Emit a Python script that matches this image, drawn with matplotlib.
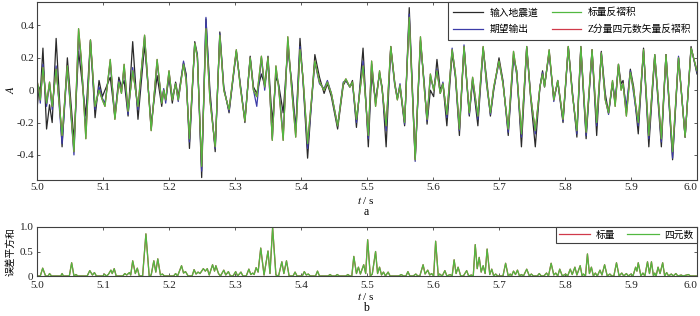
import matplotlib
matplotlib.use("Agg")
import matplotlib.pyplot as plt

plt.rcParams['font.family'] = ['Liberation Serif', 'Noto Sans CJK SC']
plt.rcParams['mathtext.fontset'] = 'stix'
plt.rcParams['axes.unicode_minus'] = False

# extrema of the traces (time in s, amplitude)
t_ext = [5.000, 5.003, 5.005, 5.009, 5.0145, 5.019, 5.023, 5.029, 5.038, 5.046,
         5.056, 5.063, 5.067, 5.074, 5.081, 5.088, 5.094, 5.099, 5.103, 5.111,
         5.118, 5.124, 5.128, 5.132, 5.138, 5.145, 5.153, 5.163, 5.173, 5.182,
         5.189, 5.192, 5.195, 5.200, 5.205, 5.210, 5.214, 5.222, 5.226, 5.231,
         5.239, 5.243, 5.2495, 5.256, 5.262, 5.270, 5.277, 5.283, 5.291, 5.302,
         5.308, 5.315, 5.323, 5.328, 5.333, 5.340, 5.345, 5.350, 5.3565, 5.362,
         5.366, 5.373, 5.380, 5.386, 5.392, 5.3985, 5.403, 5.410, 5.421, 5.428,
         5.435, 5.440, 5.446, 5.4555, 5.464, 5.468, 5.474, 5.478, 5.484, 5.494,
         5.502, 5.507, 5.513, 5.519, 5.523, 5.529, 5.536, 5.542, 5.546, 5.550,
         5.557, 5.564, 5.573, 5.581, 5.587, 5.591, 5.596, 5.601, 5.606, 5.611,
         5.615, 5.621, 5.629, 5.634, 5.640, 5.647, 5.655, 5.660, 5.668, 5.676,
         5.681, 5.687, 5.692, 5.700, 5.706, 5.714, 5.722, 5.727, 5.734, 5.742,
         5.748, 5.755, 5.762, 5.766, 5.769, 5.776, 5.783, 5.789, 5.797, 5.805,
         5.811, 5.818, 5.824, 5.832, 5.841, 5.848, 5.855, 5.861, 5.866, 5.872,
         5.876, 5.881, 5.885, 5.888, 5.893, 5.899, 5.904, 5.911, 5.919, 5.927,
         5.936, 5.946, 5.953, 5.963, 5.972, 5.982, 5.991, 6.000]

# 输入地震道
seis_in = [-.12, .02, -.02, .26, -.24, -.09, -.20, .32, -.35, .20,
           -.31, .24, .10, -.16, .31, -.17, .06, -.04, 0, .08,
           -.16, .08, .02, .06, -.16, .30, -.18, .28, -.21, .09,
           -.10, 0, -.06, .08, -.08, .05, -.04, .17, .10, -.36,
           .30, .22, -.54, .44, 0, -.38, .36, .02, -.14, .24,
           .04, -.20, .21, .02, -.02, .10, .03, .21, -.20, .08,
           .04, -.14, .26, .05, -.24, .32, .06, -.42, .22, .08,
           -.02, .04, -.04, -.24, .03, .06, .02, .06, -.23, .26,
           -.35, .10, -.06, .10, .02, -.35, .27, .05, -.05, .02,
           -.22, .51, -.42, .30, .03, -.21, 0, -.04, .19, 0,
           .04, -.22, .23, .08, -.28, .27, -.16, .06, -.22, .26,
           .08, -.16, 0, .20, .06, -.28, .20, .12, -.35, .26,
           -.05, -.35, .02, .12, .03, .23, -.05, .05, -.20, .27,
           0, -.29, .26, -.30, .25, -.28, .24, -.02, -.14, .04,
           -.08, .16, .04, .06, -.14, .13, .02, -.27, .26, -.35,
           .21, -.35, .22, -.43, .20, -.29, .27, .10]

# 期望输出
desired = [.04, 0, -.08, .16, -.10, .04, -.12, .15, -.33, .14,
           -.40, .34, .18, -.25, .30, -.12, .02, -.05, -.08, .17,
           -.17, .06, -.01, .14, -.15, .14, -.12, .33, -.24, .17,
           -.07, .01, -.08, .11, -.05, .04, -.07, .18, .08, -.32,
           .29, .21, -.50, .45, -.04, -.36, .35, .01, -.13, .24,
           .03, -.18, .20, 0, -.10, .20, 0, .19, -.30, .12,
           .03, -.28, .30, .02, -.26, .27, .07, -.36, .17, .04,
           .01, .06, -.02, -.22, .05, .06, .02, .04, -.20, .18,
           -.30, .16, -.08, .11, 0, -.25, .26, .03, -.05, .04,
           -.21, .47, -.44, .31, .02, -.19, .08, .01, .13, -.02,
           .05, -.17, .26, .09, -.25, .28, -.15, .07, -.18, .26,
           .04, -.15, .01, .17, .05, -.26, .22, .09, -.29, .27,
           -.03, -.27, .02, .11, .02, .24, -.07, .06, -.19, .26,
           -.01, -.27, .27, -.28, .24, -.22, .23, -.05, -.15, .05,
           -.06, .14, .02, .03, -.10, .12, -.02, -.22, .24, -.30,
           .22, -.32, .22, -.42, .21, -.29, .26, .11]

# 标量反褶积
scalar = [.06, 0, -.06, .14, -.08, .05, -.10, .13, -.28, .15,
          -.38, .38, .20, -.30, .31, -.10, 0, -.06, -.10, .19,
          -.18, .05, -.02, .16, -.13, .12, -.10, .34, -.25, .19,
          -.08, 0, -.06, .12, -.06, .04, -.06, .16, .06, -.30,
          .29, .20, -.47, .38, -.06, -.35, .34, 0, -.12, .25,
          .02, -.19, .20, 0, -.04, .21, .02, .20, -.31, .15,
          .02, -.31, .33, 0, -.29, .25, .08, -.33, .18, .05,
          0, .05, -.02, -.22, .04, .07, .02, .05, -.18, .15,
          -.28, .18, -.10, .12, 0, -.22, .27, .04, -.06, .03,
          -.20, .45, -.43, .33, 0, -.18, .10, 0, .12, -.02,
          .04, -.15, .25, .10, -.24, .27, -.14, .08, -.16, .27,
          .05, -.14, .02, .18, .04, -.24, .24, .10, -.27, .27,
          -.04, -.25, .02, .10, .02, .25, -.06, .06, -.18, .27,
          -.02, -.25, .27, -.26, .25, -.20, .23, -.06, -.14, .06,
          -.10, .16, 0, .04, -.16, .11, 0, -.20, .25, -.28,
          .22, -.30, .22, -.38, .20, -.29, .26, .12]

# Z分量四元数矢量反褶积 (coincides with the scalar result, hidden below it)
quat = list(scalar)

# 误差平方和 (time, value)
err_pts = [(5.000, 0), (5.005, 0), (5.0086, .16), (5.013, 0), (5.017, 0), (5.019, .05), (5.022, 0),
           (5.036, 0), (5.038, .05), (5.040, 0), (5.049, 0), (5.0525, .27), (5.056, 0), (5.059, .03),
           (5.062, 0), (5.076, 0), (5.080, .11), (5.084, .02), (5.087, .07), (5.090, 0), (5.100, 0),
           (5.102, .04), (5.105, 0), (5.108, .03), (5.112, .12), (5.114, .05), (5.117, .15), (5.120, 0),
           (5.130, 0), (5.133, .05), (5.136, .02), (5.140, .07), (5.142, .02), (5.145, .31), (5.149, .05),
           (5.152, .16), (5.155, 0), (5.160, 0), (5.165, .86), (5.170, 0), (5.173, .02), (5.177, .31),
           (5.180, .08), (5.183, .35), (5.187, .02), (5.190, .04), (5.193, 0), (5.207, 0), (5.210, .05),
           (5.213, 0), (5.219, .21), (5.222, .06), (5.225, .09), (5.229, 0), (5.235, 0), (5.238, .13),
           (5.241, .04), (5.244, .08), (5.247, .05), (5.252, .15), (5.255, .10), (5.258, .15), (5.261, .02),
           (5.266, .23), (5.269, .10), (5.271, .21), (5.275, .05), (5.278, 0), (5.283, .12), (5.286, .02),
           (5.290, .09), (5.293, 0), (5.297, 0), (5.301, .09), (5.304, 0), (5.309, .08), (5.312, 0),
           (5.317, 0), (5.321, .14), (5.324, .03), (5.327, .06), (5.329, .03), (5.332, .17), (5.335, .08),
           (5.339, .57), (5.344, .02), (5.350, .51), (5.353, .05), (5.357, .99), (5.362, .02), (5.366, 0),
           (5.371, .29), (5.374, .05), (5.378, .31), (5.382, 0), (5.388, 0), (5.391, .08), (5.394, 0),
           (5.402, 0), (5.405, .09), (5.408, .02), (5.411, .04), (5.414, 0), (5.422, 0), (5.425, .10),
           (5.428, 0), (5.441, 0), (5.444, .03), (5.447, 0), (5.452, 0), (5.455, .03), (5.458, 0),
           (5.468, 0), (5.471, .03), (5.474, 0), (5.477, 0), (5.480, .40), (5.484, .05), (5.487, .18),
           (5.490, .04), (5.495, .23), (5.498, .05), (5.501, .74), (5.505, 0), (5.508, .04), (5.513, .50),
           (5.516, .05), (5.519, .18), (5.522, .02), (5.525, .08), (5.528, 0), (5.532, .08), (5.535, 0),
           (5.548, 0), (5.552, .03), (5.555, 0), (5.559, 0), (5.562, .09), (5.565, 0), (5.570, 0),
           (5.574, .04), (5.577, 0), (5.580, 0), (5.585, .23), (5.588, .04), (5.592, .12), (5.595, .02),
           (5.598, .05), (5.601, 0), (5.604, .71), (5.608, 0), (5.610, .04), (5.614, 0), (5.618, .11),
           (5.621, 0), (5.626, .03), (5.629, 0), (5.632, .33), (5.635, .05), (5.638, .18), (5.642, 0),
           (5.646, 0), (5.651, .11), (5.654, 0), (5.658, .02), (5.661, 0), (5.664, .64), (5.667, .15),
           (5.670, .38), (5.673, .08), (5.676, .21), (5.679, .05), (5.682, .55), (5.686, .03), (5.689, .14),
           (5.692, 0), (5.695, .04), (5.698, 0), (5.706, 0), (5.710, .26), (5.714, 0), (5.717, .04),
           (5.719, 0), (5.722, .10), (5.725, .03), (5.728, .12), (5.731, 0), (5.734, .03), (5.737, 0),
           (5.742, .14), (5.746, 0), (5.749, .04), (5.752, 0), (5.758, 0), (5.761, .05), (5.764, 0),
           (5.768, 0), (5.772, .06), (5.775, 0), (5.779, .26), (5.783, .02), (5.786, .06), (5.789, 0),
           (5.792, .14), (5.796, 0), (5.801, .04), (5.804, 0), (5.808, .14), (5.811, .03), (5.815, .18),
           (5.818, .02), (5.823, .21), (5.826, 0), (5.828, .04), (5.831, 0), (5.834, .45), (5.837, .05),
           (5.840, .18), (5.843, 0), (5.846, .06), (5.849, 0), (5.853, .12), (5.856, .02), (5.860, .23),
           (5.864, 0), (5.868, .04), (5.871, 0), (5.874, 0), (5.878, .27), (5.882, 0), (5.886, .06),
           (5.889, 0), (5.893, .05), (5.896, 0), (5.900, .04), (5.903, 0), (5.907, .18), (5.909, .10),
           (5.911, .27), (5.915, 0), (5.918, .06), (5.921, 0), (5.925, .29), (5.928, .05), (5.931, .29),
           (5.934, 0), (5.936, .06), (5.938, 0), (5.941, .18), (5.944, .05), (5.948, .27), (5.951, 0),
           (5.954, .07), (5.957, 0), (5.961, .04), (5.964, 0), (5.968, .05), (5.971, 0), (5.976, .02),
           (5.979, 0), (5.987, .03), (5.990, 0), (6.000, 0)]
err_t = [p[0] for p in err_pts]
err_v = [p[1] for p in err_pts]

x_ticks = [5.0, 5.1, 5.2, 5.3, 5.4, 5.5, 5.6, 5.7, 5.8, 5.9, 6.0]
y_ticks = [-0.4, -0.2, 0, 0.2, 0.4]
y_tick_labels = ['-0.4', '-0.2', '0', '0.2', '0.4']

assert len(t_ext) == len(seis_in) == len(desired) == len(scalar)

c_black = '#2a2a2a'
c_blue = '#3c3ca8'
c_green = '#52b840'
c_red = '#d03a4a'
c_frame = '#404040'

fig = plt.figure(figsize=(7, 3.16), dpi=100)
ax1 = fig.add_axes([37/700, 1 - 180/316, 660/700, 178/316])
ax2 = fig.add_axes([37/700, 1 - 276/316, 660/700, 49/316])

h1, = ax1.plot(t_ext, seis_in, color=c_black, lw=0.9)
h2, = ax1.plot(t_ext, desired, color=c_blue, lw=0.9)
h4, = ax1.plot(t_ext, quat, color=c_red, lw=0.9)
h3, = ax1.plot(t_ext, scalar, color=c_green, lw=0.9)
ax1.set_xlim(5.0, 6.0)
ax1.set_ylim(-0.555, 0.545)
ax1.set_xticks(x_ticks)
ax1.set_xticklabels(['%.1f' % v for v in x_ticks])
ax1.set_yticks(y_ticks)
ax1.set_yticklabels(y_tick_labels)
leg1 = ax1.legend([h1, h2, h3, h4],
                  ['输入地震道', '期望输出', '标量反褶积', 'Z分量四元数矢量反褶积'],
                  loc='upper right', ncol=2, fontsize=7, frameon=True, fancybox=False,
                  borderaxespad=0, handlelength=3.0, columnspacing=1.4,
                  handletextpad=0.7, labelspacing=0.75, borderpad=0.6)
leg1.get_frame().set_edgecolor(c_frame)
leg1.get_frame().set_linewidth(0.8)
leg1.get_frame().set_alpha(1)

g1, = ax2.plot(err_t, err_v, color=c_red, lw=0.9)
g2, = ax2.plot(err_t, err_v, color=c_green, lw=0.9)
ax2.set_xlim(5.0, 6.0)
ax2.set_ylim(0, 1.0)
ax2.set_xticks(x_ticks)
ax2.set_xticklabels(['%.1f' % v for v in x_ticks])
ax2.set_yticks([0, 0.5, 1.0])
ax2.set_yticklabels(['0', '0.5', '1.0'])
leg2 = ax2.legend([g1, g2], ['标量', '四元数'], loc='upper right', ncol=2, fontsize=7,
                  frameon=True, fancybox=False, borderaxespad=0, handlelength=3.2,
                  columnspacing=1.2, handletextpad=0.6, borderpad=0.35)
leg2.get_frame().set_edgecolor(c_frame)
leg2.get_frame().set_linewidth(0.8)
leg2.get_frame().set_alpha(1)

for ax in (ax1, ax2):
    for s in ax.spines.values():
        s.set_color(c_frame)
        s.set_linewidth(0.8)
    ax.tick_params(direction='in', length=2.5, width=0.6, labelsize=8, pad=2,
                   colors=c_frame, labelcolor='#222222', top=True, right=True)
    # keep the last tick label inside the figure
    ax.get_xticklabels()[-1].set_horizontalalignment('right')
ax2.tick_params(axis='x', pad=3.5)
ax2.tick_params(axis='y', pad=2.5)

fig.text(10/700, 1 - 90/316, r'$A$', fontsize=8, ha='center', va='center', rotation=90)
fig.text(11/700, 1 - 252/316, '误差平方和', fontsize=7, ha='center', va='center', rotation=90)
fig.text(366/700, 1 - 200/316, r'$t$ / s', fontsize=8, ha='center', va='center')
fig.text(366/700, 1 - 212/316, 'a', fontsize=8.5, ha='center', va='center')
fig.text(366/700, 1 - 296/316, r'$t$ / s', fontsize=8, ha='center', va='center')
fig.text(366/700, 1 - 308/316, 'b', fontsize=8.5, ha='center', va='center')

fig.savefig('out.png', dpi=100)
